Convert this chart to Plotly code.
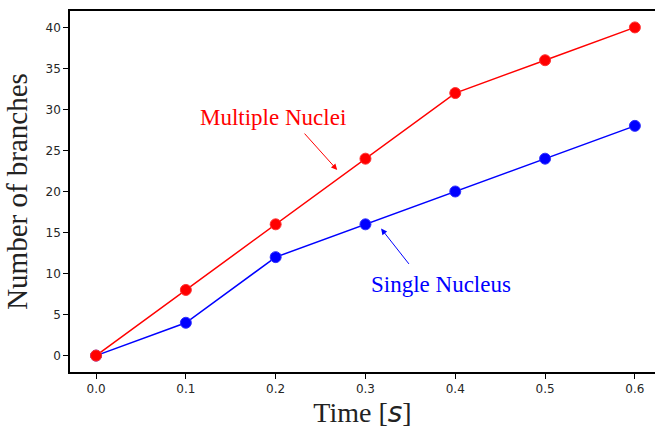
import plotly.graph_objects as go

# Branch counts over time for the two nucleation setups
time_s = [0.0, 0.1, 0.2, 0.3, 0.4, 0.5, 0.6]
single_nucleus = [0, 4, 12, 16, 20, 24, 28]
multiple_nuclei = [0, 8, 16, 24, 32, 36, 40]

x_ticks = [0.0, 0.1, 0.2, 0.3, 0.4, 0.5, 0.6]
y_ticks = [0, 5, 10, 15, 20, 25, 30, 35, 40]

RED = "#ff0000"
BLUE = "#0000ff"
SERIF = "Liberation Serif"

fig = go.Figure()
fig.add_trace(go.Scatter(
    x=time_s, y=single_nucleus, mode="lines+markers",
    line=dict(color=BLUE, width=1.5),
    marker=dict(color=BLUE, size=11, line=dict(color="#3030ff", width=1)),
    showlegend=False,
))
fig.add_trace(go.Scatter(
    x=time_s, y=multiple_nuclei, mode="lines+markers",
    line=dict(color=RED, width=1.5),
    marker=dict(color=RED, size=11, line=dict(color="#ff3030", width=1)),
    showlegend=False,
))

annotations = [
    dict(x=0.197, y=29.05, text="Multiple Nuclei", showarrow=False,
         font=dict(family=SERIF, size=23, color=RED)),
    dict(x=0.2685, y=22.63, ax=0.2307, ay=27.24, axref="x", ayref="y",
         text="", showarrow=True, arrowhead=2, arrowsize=1.2, arrowwidth=1,
         arrowcolor=RED),
    dict(x=0.3843, y=8.69, text="Single Nucleus", showarrow=False,
         font=dict(family=SERIF, size=23, color=BLUE)),
    dict(x=0.3174, y=15.48, ax=0.3497, ay=10.99, axref="x", ayref="y",
         text="", showarrow=True, arrowhead=2, arrowsize=1.2, arrowwidth=1,
         arrowcolor=BLUE),
]

fig.update_layout(
    width=655, height=431,
    margin=dict(l=70, r=0, t=11, b=59),
    paper_bgcolor="white", plot_bgcolor="white",
    annotations=annotations,
    xaxis=dict(
        range=[-0.029, 0.6224], tickvals=x_ticks,
        ticktext=[f"{v:.1f}" for v in x_ticks],
        showgrid=False, zeroline=False,
        showline=True, linecolor="black", linewidth=1.6, mirror=True,
        ticks="outside", ticklen=5, tickwidth=1.3, tickcolor="black",
        tickfont=dict(family="DejaVu Sans", size=12, color="#262626"),
        title=dict(
            text="Time [<i><span style='font-family:DejaVu Sans'>s</span></i>]",
            font=dict(family=SERIF, size=28, color="#222222"), standoff=6),
    ),
    yaxis=dict(
        range=[-2, 42], tickvals=y_ticks,
        showgrid=False, zeroline=False,
        showline=True, linecolor="black", linewidth=1.6, mirror=False,
        ticks="outside", ticklen=5, tickwidth=1.3, tickcolor="black",
        tickfont=dict(family="DejaVu Sans", size=12, color="#262626"),
        title=dict(text="Number of branches",
                   font=dict(family=SERIF, size=29, color="#222222"), standoff=9),
    ),
)

fig.write_html("out.html")
